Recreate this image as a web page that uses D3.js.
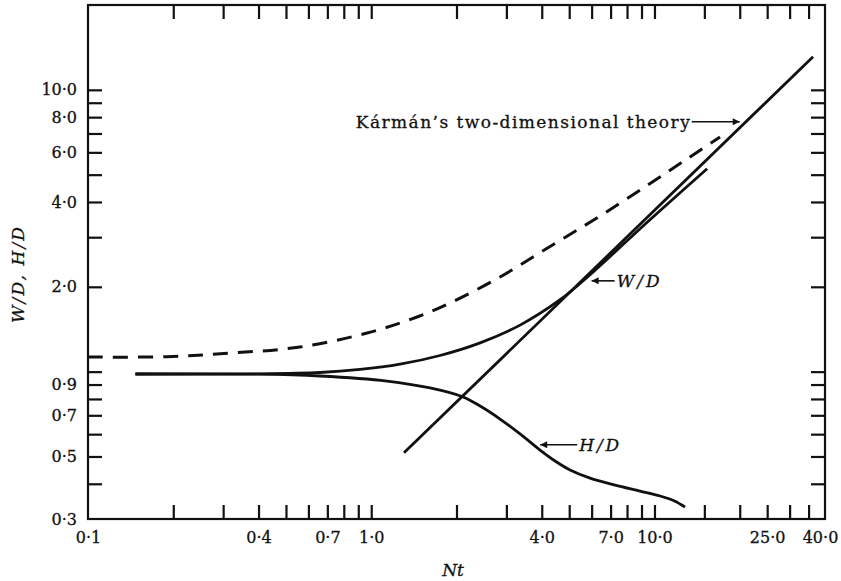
<!DOCTYPE html>
<html>
<head>
<meta charset="utf-8">
<script src="https://cdn.jsdelivr.net/npm/d3@7"></script>
<style>
  html, body { margin: 0; padding: 0; background: #fff; }
  svg { display: block; }
  text { font-family: "DejaVu Serif", "Liberation Serif", serif; fill: #111; stroke: #111; stroke-width: 0.3px; }
</style>
</head>
<body>
<svg id="chart" width="841" height="581"></svg>
<script>
// ---- data ----
const wdNt  = [0.147, 0.4, 0.659, 0.913, 1.264, 1.749, 2.423, 3.353, 4.642, 5.925, 8.2, 10.72, 15.34];
const wdVal = [0.981, 0.982, 0.993, 1.018, 1.063, 1.141, 1.265, 1.4625, 1.80, 2.208, 2.982, 3.81, 5.25];

const hdNt  = [0.147, 0.4, 0.659, 1.137, 1.613, 2.11, 2.423, 2.85, 3.353, 3.945, 4.457, 5.035, 5.925, 7.26, 8.896, 10.47, 11.82, 12.82];
const hdVal = [0.981, 0.98, 0.965, 0.926, 0.875, 0.813, 0.755, 0.679, 0.601, 0.527, 0.482, 0.448, 0.419, 0.396, 0.377, 0.362, 0.347, 0.331];

const karmanNt  = [0.1, 0.19, 0.325, 0.56, 0.967, 1.451, 1.897, 2.85, 4.279, 6.427, 9.65, 13.36, 17.04];
const karmanVal = [1.127, 1.13, 1.165, 1.223, 1.371, 1.563, 1.752, 2.167, 2.781, 3.567, 4.65, 5.78, 6.8];

const asymNt  = [1.305, 36.3];
const asymVal = [0.515, 13.1];

const xDomain = [0.1, 40];
const yDomain = [0.3, 20];

const xTicks = [0.2,0.3,0.4,0.5,0.6,0.7,0.8,0.9,1,2,3,4,5,6,7,8,9,10,15,20,25,30,35];
const xLabelValues = [0.1, 0.4, 0.7, 1, 4, 7, 10, 25, 40];
const xLabelTexts  = ["0·1","0·4","0·7","1·0","4·0","7·0","10·0","25·0","40·0"];

const yTicks = [0.4,0.5,0.6,0.7,0.8,0.9,1,2,3,4,5,6,7,8,9,10];
const yLabelValues = [0.3, 0.5, 0.7, 0.9, 2, 4, 6, 8, 10];
const yLabelTexts  = ["0·3","0·5","0·7","0·9","2·0","4·0","6·0","8·0","10·0"];

// annotation anchors (arrow tips) in data units
const annNames = ["Kármán’s two-dimensional theory", "W/D", "H/D"];
const annNt    = [20.0, 6.0, 3.95];
const annVal   = [7.7, 2.1, 0.55];

// ---- layout ----
const L = 88, R = 825, T = 5, B = 519;
const svg = d3.select("#chart");
const x = d3.scaleLog().domain(xDomain).range([L, R]);
const y = d3.scaleLog().domain(yDomain).range([B, T]);

const ink = "#111";
const tickLen = 14;

function styleAxis(g) {
  g.select(".domain").remove();
  g.selectAll(".tick line").attr("stroke", ink).attr("stroke-width", 2.2);
}

// tick marks on all four sides, pointing inward
svg.append("g").attr("transform", `translate(0,${B})`)
  .call(d3.axisBottom(x).tickValues(xTicks).tickSize(-tickLen).tickFormat(""))
  .call(styleAxis);
svg.append("g").attr("transform", `translate(0,${T})`)
  .call(d3.axisTop(x).tickValues(xTicks).tickSize(-tickLen).tickFormat(""))
  .call(styleAxis);
svg.append("g").attr("transform", `translate(${L},0)`)
  .call(d3.axisLeft(y).tickValues(yTicks).tickSize(-tickLen).tickFormat(""))
  .call(styleAxis);
svg.append("g").attr("transform", `translate(${R},0)`)
  .call(d3.axisRight(y).tickValues(yTicks).tickSize(-tickLen).tickFormat(""))
  .call(styleAxis);

// tick labels
const xl = svg.append("g").attr("transform", `translate(0,${B})`)
  .call(d3.axisBottom(x).tickValues(xLabelValues).tickSize(0).tickPadding(13)
        .tickFormat((d, i) => xLabelTexts[i]));
xl.select(".domain").remove();
xl.selectAll("text").attr("font-size", 16)
  .attr("font-family", "DejaVu Serif").attr("fill", ink);
xl.selectAll(".tick").filter(d => d === 40).select("text").attr("dx", "-5");

const yl = svg.append("g").attr("transform", `translate(${L},0)`)
  .call(d3.axisLeft(y).tickValues(yLabelValues).tickSize(0).tickPadding(11)
        .tickFormat((d, i) => yLabelTexts[i]));
yl.select(".domain").remove();
yl.selectAll("text").attr("font-size", 16)
  .attr("font-family", "DejaVu Serif").attr("fill", ink);

// frame
svg.append("rect").attr("x", L).attr("y", T).attr("width", R - L).attr("height", B - T)
  .attr("fill", "none").attr("stroke", ink).attr("stroke-width", 2.2);

// curves
const zip = (a, b) => a.map((v, i) => [v, b[i]]);
const line = d3.line().x(d => x(d[0])).y(d => y(d[1])).curve(d3.curveCatmullRom.alpha(0.5));
const straight = d3.line().x(d => x(d[0])).y(d => y(d[1]));

svg.append("path").attr("d", line(zip(karmanNt, karmanVal)))
  .attr("fill", "none").attr("stroke", ink).attr("stroke-width", 3)
  .attr("stroke-dasharray", "15,10");
svg.append("path").attr("d", line(zip(wdNt, wdVal)))
  .attr("fill", "none").attr("stroke", ink).attr("stroke-width", 2.8);
svg.append("path").attr("d", line(zip(hdNt, hdVal)))
  .attr("fill", "none").attr("stroke", ink).attr("stroke-width", 2.8);
svg.append("path").attr("d", straight(zip(asymNt, asymVal)))
  .attr("fill", "none").attr("stroke", ink).attr("stroke-width", 2.8);

// annotations with arrows
const defs = svg.append("defs");
defs.append("marker").attr("id", "arr").attr("viewBox", "0 0 10 10")
  .attr("refX", 10).attr("refY", 5).attr("markerWidth", 10).attr("markerHeight", 7)
  .attr("markerUnits", "userSpaceOnUse").attr("orient", "auto")
  .append("path").attr("d", "M0,0 L10,5 L0,10 z").attr("fill", ink);

const annArrowLen = [48, 23, 37];
const annTextLen  = [334, 43, 40];
annNames.forEach((name, i) => {
  const tx = x(annNt[i]), ty = y(annVal[i]);
  const tail = tx + (i === 0 ? -annArrowLen[i] : annArrowLen[i]);
  svg.append("line").attr("x1", tail).attr("y1", ty).attr("x2", tx).attr("y2", ty)
    .attr("stroke", ink).attr("stroke-width", 1.6).attr("marker-end", "url(#arr)");
  const t = svg.append("text").attr("y", ty).attr("dy", "0.36em")
    .attr("font-size", 17).attr("textLength", annTextLen[i]).attr("lengthAdjust", "spacing")
    .text(name);
  if (i === 0) {
    t.attr("x", tail - 2).attr("text-anchor", "end");
  } else {
    t.attr("x", tail + 2).attr("font-style", "italic");
  }
});

// axis titles
svg.append("text").attr("x", 453).attr("y", 576).attr("text-anchor", "middle")
  .attr("font-size", 17).attr("font-style", "italic").text("Nt");
svg.append("text").attr("transform", "translate(24,275) rotate(-90)")
  .attr("text-anchor", "middle").attr("font-size", 17).attr("font-style", "italic")
  .attr("textLength", 96).attr("lengthAdjust", "spacing")
  .text("W/D, H/D");
</script>
</body>
</html>
